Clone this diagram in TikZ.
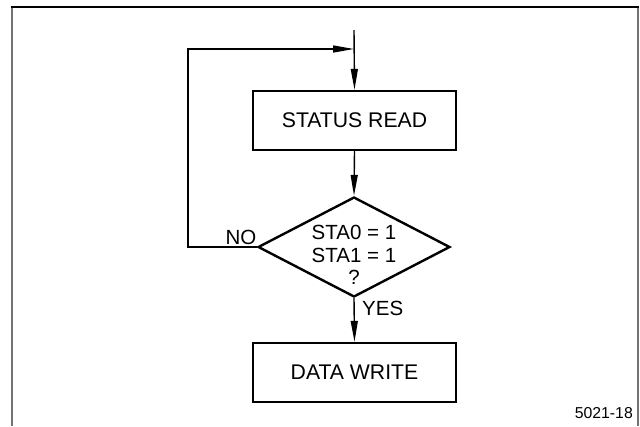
\documentclass[tikz,border=0pt]{standalone}
\usepackage{fontspec}
\setmainfont{Liberation Sans}
\usetikzlibrary{shapes.geometric,arrows.meta}
\begin{document}
\begin{tikzpicture}[x=1pt,y=-1pt,
  every node/.style={font=\fontsize{20.5}{22.5}\selectfont},
  procbox/.style={draw,line width=2.4pt,minimum width=203pt,minimum height=59pt,inner sep=0pt,
    font=\fontsize{21.2}{23}\selectfont},
  decision/.style={draw,diamond,line width=2.4pt,minimum width=192pt,minimum height=100pt,inner sep=0pt},
  flow/.style={line width=1.4pt,-{Triangle[length=21pt,width=7pt]}},
  tag/.style={inner sep=0pt}]
  \useasboundingbox (0,0) rectangle (640,426);
  % page frame: dark top rule, grey side rules
  \draw[line width=1.7pt,gray!90!black] (12,426) -- (12,7);
  \draw[line width=1.7pt,gray!90!black] (638,7) -- (638,426);
  \draw[line width=1.4pt] (11.2,7) -- (638.8,7);

  % flow chart
  \coordinate (entry) at (354,30);
  \coordinate (merge) at (354,49);
  \node[procbox] (sr) at (354.5,120.5) {STATUS READ};
  \node[decision] (dec) at (354,247) {};
  \node[tag,align=center] (cond) at (354,255) {STA0 = 1\\STA1 = 1\\?};
  \node[procbox] (dw) at (354.5,372.5) {DATA WRITE};
  \coordinate (loopbl) at (188,247);
  \coordinate (looptl) at (188,49);

  \draw[flow] (entry) -- (sr.north);
  \draw[flow] (sr.south) -- (dec.north);
  \draw[flow] (dec.south) -- (dw.north);
  \draw[flow] (dec.west) -- (loopbl) -- (looptl) -- (merge);

  \node[tag,anchor=west] (yes) at (362,308) {YES};
  \node[tag] (no) at (241,237) {NO};
  \node[tag,anchor=east,font=\fontsize{15.8}{18}\selectfont] (fig) at (633,413) {5021-18};
\end{tikzpicture}
\end{document}
